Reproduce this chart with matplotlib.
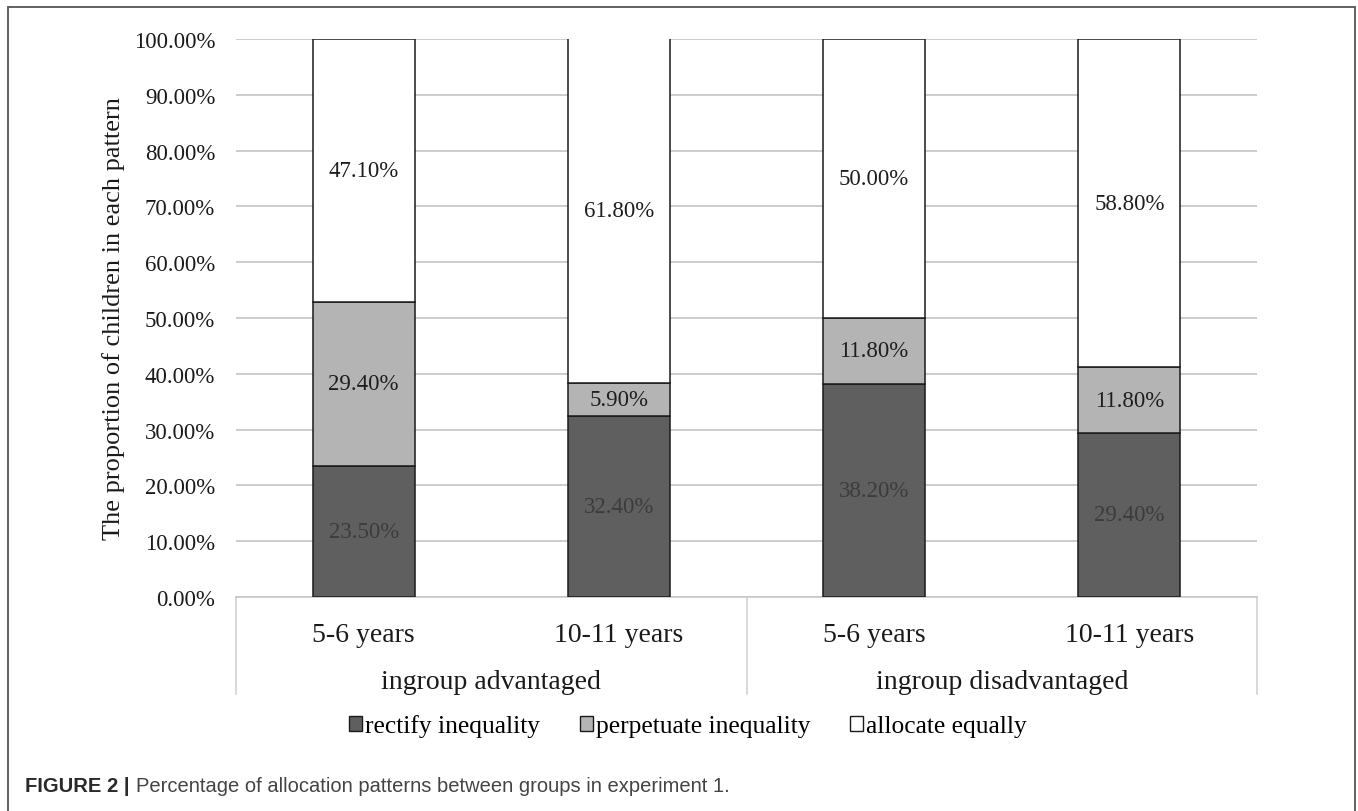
import numpy as np
import matplotlib
matplotlib.use("Agg")
from matplotlib import pyplot as plt
from matplotlib.patches import Patch, Rectangle
from matplotlib.text import Annotation
from matplotlib.transforms import blended_transform_factory

plt.rcParams['font.family'] = ['Liberation Serif', 'DejaVu Serif']

ages = ["5-6 years", "10-11 years", "5-6 years", "10-11 years"]
groups = ["ingroup advantaged", "ingroup disadvantaged"]
rectify = [23.5, 32.4, 38.2, 29.4]
perpetuate = [29.4, 5.9, 11.8, 11.8]
equal = [47.1, 61.8, 50.0, 58.8]
series_names = ["rectify inequality", "perpetuate inequality", "allocate equally"]

colors = ["#5f5f5f", "#b4b4b4", "#ffffff"]
label_colors = ["#3c3c3c", "#1e1e1e", "#1e1e1e"]

fig = plt.figure(figsize=(13.58, 8.12), dpi=100)
ax = fig.add_axes([236 / 1358, 1 - 598 / 812, 1021 / 1358, 558 / 812])

x = np.arange(len(ages))
bottom = np.zeros(len(ages))
for vals, col, lcol in zip([rectify, perpetuate, equal], colors, label_colors):
    vals = np.array(vals)
    ax.bar(x, vals, width=0.4, bottom=bottom, color=col,
           edgecolor="#1a1a1a", linewidth=1.1, zorder=3)
    for xi, b, v in zip(x, bottom, vals):
        ax.text(xi, b + v / 2, f"{v:.2f}%", ha="center", va="center",
                fontsize=16.5, color=lcol, zorder=4)
    bottom += vals

ax.set_xlim(-0.5, 3.5)
ax.set_ylim(0, 100)
ax.set_yticks(np.arange(0, 101, 10))
ax.set_yticklabels([f"{v:.2f}%" for v in range(0, 101, 10)])
ax.tick_params(axis="y", length=0, pad=15, labelsize=16.5, labelcolor="#1a1a1a")
ax.grid(axis="y", color="#c4c4c4", linewidth=1.2, zorder=0)
for s in ["left", "right", "top"]:
    ax.spines[s].set_visible(False)
ax.spines["bottom"].set_color("#c8c8c8")
ax.spines["bottom"].set_linewidth(1.2)

ax.set_xticks(x)
ax.set_xticklabels(ages)
ax.tick_params(axis="x", length=0, pad=18, labelsize=20, labelcolor="#1a1a1a")

ax.text(-0.12, 0.5, "The proportion of children in each pattern", transform=ax.transAxes,
        rotation=90, ha="center", va="center", fontsize=19, color="#1a1a1a")

# second row of category labels and the separators between groups
tr = blended_transform_factory(ax.transData, ax.transAxes)
for xs in [-0.5, 1.5, 3.5]:
    ax.plot([xs, xs], [0, -0.174], transform=tr, color="#d2d2d2",
            linewidth=1.2, clip_on=False)
for gi, g in enumerate(groups):
    ax.text(2 * gi + 0.5, -0.152, g, transform=tr, ha="center", va="center",
            fontsize=20, color="#1a1a1a")

handles = [Patch(facecolor=c, edgecolor="#1a1a1a", linewidth=1.0) for c in colors]
fig.legend(handles, series_names, loc="center", bbox_to_anchor=(688 / 1358, 1 - 727 / 812),
           ncol=3, frameon=False, fontsize=18.4, handlelength=0.5, handleheight=0.5,
           handletextpad=0.12, columnspacing=1.56)

# caption: bold prefix followed by the plain text
cap = fig.text(25 / 1358, 1 - 792 / 812, "FIGURE 2 |", fontsize=14.5, fontweight="bold",
               family="Liberation Sans", color="#2a2a2a", va="baseline")
fig.add_artist(Annotation("Percentage of allocation patterns between groups in experiment 1.",
                          xy=(1, 0), xycoords=cap, xytext=(5, 0), textcoords="offset points",
                          va="bottom", fontsize=14.5, family="Liberation Sans", color="#444444"))

# outer frame around the figure
fig.add_artist(Rectangle((8 / 1358, -0.05), (1355 - 8) / 1358, 1.05 - 8 / 812,
                         transform=fig.transFigure, fill=False,
                         edgecolor="#555555", linewidth=1.3))

fig.savefig("out.png", dpi=100)
